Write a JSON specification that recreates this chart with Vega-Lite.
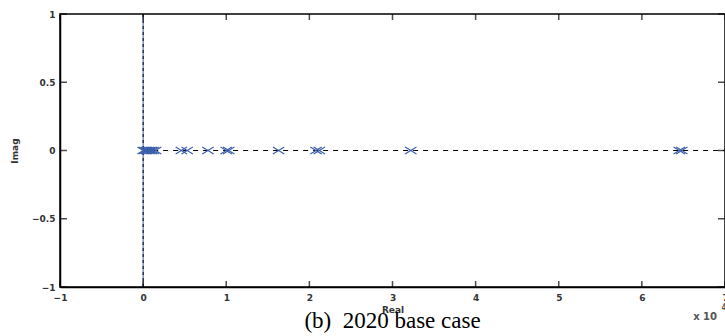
{
  "$schema": "https://vega.github.io/schema/vega-lite/v6.json",
  "autosize": "none",
  "width": 665,
  "height": 273,
  "padding": {"left": 60, "top": 14, "right": 0, "bottom": 49},
  "background": "white",
  "config": {
    "view": {"stroke": "black", "strokeWidth": 1.5},
    "axis": {"domainColor": "black", "domainWidth": 1.5, "ticks": false, "grid": false,
             "labelFont": "DejaVu Sans", "labelFontSize": 9, "labelFontWeight": "bold", "labelColor": "#333", "titleFont": "DejaVu Sans", "titleFontSize": 9, "titleFontWeight": "bold", "titleColor": "#333"}
  },
  "title": {"text": "(b)\u00a0 2020 base case", "orient": "bottom", "font": "Liberation Serif", "fontSize": 23, "fontWeight": "normal", "color": "black", "offset": -12, "dx": 0},
  "datasets": {
    "poles": [
      {"re": 0.0}, {"re": 0.02}, {"re": 0.04}, {"re": 0.06}, {"re": 0.08}, {"re": 0.1}, {"re": 0.12}, {"re": 0.15},
      {"re": 0.46}, {"re": 0.53}, {"re": 0.78}, {"re": 1.0}, {"re": 1.03},
      {"re": 1.63}, {"re": 2.08}, {"re": 2.12}, {"re": 3.22}, {"re": 6.45}, {"re": 6.48}
    ],
    "xticks": [{"v": -1}, {"v": 0}, {"v": 1}, {"v": 2}, {"v": 3}, {"v": 4}, {"v": 5}, {"v": 6}, {"v": 7}],
    "yticks": [{"v": -1}, {"v": -0.5}, {"v": 0}, {"v": 0.5}, {"v": 1}]
  },
  "layer": [
    {
      "data": {"values": [{}]},
      "mark": {"type": "rule", "color": "#3a5fad", "strokeWidth": 1},
      "encoding": {"x": {"datum": 0, "type": "quantitative"}}
    },
    {
      "data": {"values": [{}]},
      "mark": {"type": "rule", "color": "black", "strokeWidth": 1, "strokeDash": [3, 3]},
      "encoding": {"x": {"datum": 0, "type": "quantitative"}}
    },
    {
      "data": {"values": [{}]},
      "mark": {"type": "rule", "color": "black", "strokeWidth": 1, "strokeDash": [5, 5]},
      "encoding": {"x": {"datum": 0, "type": "quantitative"}, "x2": {"datum": 7}, "y": {"datum": 0, "type": "quantitative"}}
    },
    {
      "data": {"name": "xticks"},
      "mark": {"type": "tick", "orient": "vertical", "color": "black", "thickness": 1.5, "size": 6, "yOffset": -3},
      "encoding": {"x": {"field": "v", "type": "quantitative"}, "y": {"datum": -1, "type": "quantitative"}}
    },
    {
      "data": {"name": "xticks"},
      "mark": {"type": "tick", "orient": "vertical", "color": "black", "thickness": 1.5, "size": 6, "yOffset": 3},
      "encoding": {"x": {"field": "v", "type": "quantitative"}, "y": {"datum": 1, "type": "quantitative"}}
    },
    {
      "data": {"name": "yticks"},
      "mark": {"type": "tick", "orient": "horizontal", "color": "black", "thickness": 1.5, "size": 7, "xOffset": 3.5},
      "encoding": {"y": {"field": "v", "type": "quantitative"}, "x": {"datum": -1, "type": "quantitative"}}
    },
    {
      "data": {"name": "yticks"},
      "mark": {"type": "tick", "orient": "horizontal", "color": "black", "thickness": 1.5, "size": 7, "xOffset": -3.5},
      "encoding": {"y": {"field": "v", "type": "quantitative"}, "x": {"datum": 7, "type": "quantitative"}}
    },
    {
      "data": {"name": "poles"},
      "mark": {"type": "point", "shape": "M-1,-0.6L1,0.6M-1,0.6L1,-0.6", "size": 130, "filled": false, "stroke": "#3a5fad", "strokeWidth": 1.2, "opacity": 1},
      "encoding": {
        "x": {"field": "re", "type": "quantitative", "scale": {"domain": [-1, 7], "nice": false, "zero": false},
              "axis": {"title": "Real", "values": [-1, 0, 1, 2, 3, 4, 5, 6, 7], "format": "~g", "labelPadding": 6, "titlePadding": 3, "labelFlush": false}},
        "y": {"datum": 0, "type": "quantitative", "scale": {"domain": [-1, 1], "nice": false},
              "axis": {"title": "Imag", "values": [-1, -0.5, 0, 0.5, 1], "format": "~g", "labelPadding": 5, "titlePadding": 12}}
      }
    },
    {
      "data": {"values": [{"x": 6.76, "y": -1, "t": "x 10"}]},
      "mark": {"type": "text", "font": "DejaVu Sans", "fontSize": 10, "fontWeight": "bold", "color": "#555", "dy": 30, "align": "center"},
      "encoding": {"x": {"field": "x", "type": "quantitative"}, "y": {"field": "y", "type": "quantitative"}, "text": {"field": "t"}}
    },
    {
      "data": {"values": [{"x": 6.99, "y": -1, "t": "4"}]},
      "mark": {"type": "text", "font": "DejaVu Sans", "fontSize": 8, "fontWeight": "bold", "color": "#555", "dy": 21, "align": "center"},
      "encoding": {"x": {"field": "x", "type": "quantitative"}, "y": {"field": "y", "type": "quantitative"}, "text": {"field": "t"}}
    }
  ]
}
